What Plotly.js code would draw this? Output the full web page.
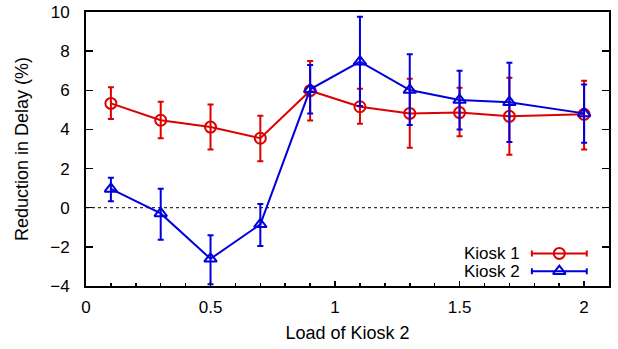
<!DOCTYPE html>
<html>
<head>
<meta charset="utf-8">
<script src="https://cdn.plot.ly/plotly-3.0.1.min.js"></script>
<style>html,body{margin:0;padding:0;background:#fff;}#chart{width:618px;height:349px;}</style>
</head>
<body>
<div id="chart"></div>
<script>
const load = [0.1, 0.3, 0.5, 0.7, 0.9, 1.1, 1.3, 1.5, 1.7, 2.0];
const kiosk1 = [5.33, 4.47, 4.12, 3.55, 5.98, 5.16, 4.82, 4.86, 4.67, 4.77];
const kiosk1ErrPlus = [0.82, 0.95, 1.16, 1.15, 1.52, 0.92, 1.77, 1.27, 1.97, 1.72];
const kiosk1ErrMinus = [0.80, 0.92, 1.14, 1.18, 1.53, 0.87, 1.75, 1.21, 1.96, 1.79];
const kiosk2 = [0.96, -0.29, -2.61, -0.85, 6.05, 7.46, 6.01, 5.50, 5.39, 4.82];
const kiosk2ErrPlus = [0.57, 1.26, 1.20, 1.04, 1.24, 2.30, 1.83, 1.50, 2.02, 1.48];
const kiosk2ErrMinus = [0.63, 1.35, 1.30, 1.11, 1.23, 2.26, 1.78, 1.51, 2.03, 1.50];
const seriesNames = ['Kiosk 1', 'Kiosk 2'];
const xTickVals = [0, 0.5, 1, 1.5, 2];
const xTickText = ['0', '0.5', '1', '1.5', '2'];
const yTickVals = [-4, -2, 0, 2, 4, 6, 8, 10];

const RED = '#dd0000', BLUE = '#0000dd';
const FONT = 'Liberation Sans, Arial, Helvetica, sans-serif';
const TICK_FS = 17, TITLE_FS = 18, LEGEND_FS = 17;

function series(x, y, plus, minus, name, color, symbol) {
  return {
    x: x, y: y, name: name, type: 'scatter', mode: 'lines+markers',
    line: {color: color, width: 2},
    marker: {symbol: symbol, size: 11, color: color, line: {color: color, width: 2}},
    error_y: {type: 'data', symmetric: false, array: plus, arrayminus: minus,
              color: color, thickness: 2, width: 3},
    showlegend: false, cliponaxis: false
  };
}

// custom gnuplot-style legend (text left, sample right) on overlay axes
function legendSample(name, color, symbol, ypos) {
  return {
    x: [0.905], y: [ypos], xaxis: 'x2', yaxis: 'y2', type: 'scatter', mode: 'markers',
    marker: {symbol: symbol, size: 11, color: color, line: {color: color, width: 2}},
    error_x: {type: 'constant', value: 0.0525, color: color, thickness: 2, width: 3},
    showlegend: false, hoverinfo: 'skip'
  };
}

const legendY = [0.119, 0.054];

const data = [
  series(load, kiosk1, kiosk1ErrPlus, kiosk1ErrMinus, seriesNames[0], RED, 'circle-open'),
  series(load, kiosk2, kiosk2ErrPlus, kiosk2ErrMinus, seriesNames[1], BLUE, 'triangle-up-open'),
  legendSample(seriesNames[0], RED, 'circle-open', legendY[0]),
  legendSample(seriesNames[1], BLUE, 'triangle-up-open', legendY[1])
];

const layout = {
  width: 618, height: 349,
  margin: {l: 86, r: 9, t: 12, b: 63},
  paper_bgcolor: '#fff', plot_bgcolor: '#fff',
  font: {family: FONT, size: TICK_FS, color: '#000'},
  showlegend: false,
  xaxis: {
    range: [0, 2.1], tickvals: xTickVals, ticktext: xTickText,
    ticks: 'inside', ticklen: 5, tickwidth: 1.5, tickcolor: '#000',
    minor: {dtick: 0.1, tick0: 0, ticks: 'inside', ticklen: 3, tickwidth: 1.5, tickcolor: '#000'},
    showline: true, linecolor: '#000', linewidth: 2, mirror: true,
    showgrid: false, zeroline: false, ticklabelstandoff: 5,
    tickfont: {size: TICK_FS, family: FONT},
    title: {text: 'Load of Kiosk 2', font: {size: TITLE_FS, family: FONT}, standoff: 10}
  },
  yaxis: {
    range: [-4, 10], tickvals: yTickVals,
    ticks: 'inside', ticklen: 7, tickwidth: 1.5, tickcolor: '#000',
    showline: true, linecolor: '#000', linewidth: 2, mirror: 'ticks',
    showgrid: false, zeroline: false, ticklabelstandoff: 11,
    tickfont: {size: TICK_FS, family: FONT},
    title: {text: 'Reduction in Delay (%)', font: {size: TITLE_FS, family: FONT}, standoff: 17}
  },
  xaxis2: {overlaying: 'x', range: [0, 1], visible: false, fixedrange: true},
  yaxis2: {overlaying: 'y', range: [0, 1], visible: false, fixedrange: true},
  shapes: [
    {type: 'line', xref: 'paper', x0: 0, x1: 1, yref: 'y', y0: 0, y1: 0,
     line: {color: '#000', width: 1, dash: 'dot'}, layer: 'below'}
  ],
  annotations: [
    {xref: 'paper', yref: 'y2', x: 0.833, y: legendY[0], text: seriesNames[0], showarrow: false,
     xanchor: 'right', yanchor: 'middle', font: {size: LEGEND_FS, family: FONT}},
    {xref: 'paper', yref: 'y2', x: 0.833, y: legendY[1], text: seriesNames[1], showarrow: false,
     xanchor: 'right', yanchor: 'middle', font: {size: LEGEND_FS, family: FONT}}
  ]
};

Plotly.newPlot('chart', data, layout, {staticPlot: true, displayModeBar: false});
</script>
</body>
</html>
